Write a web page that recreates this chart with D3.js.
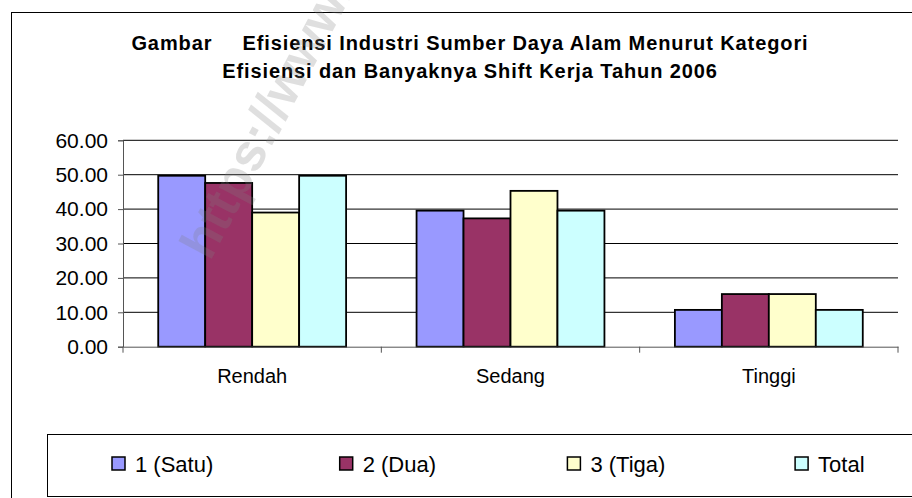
<!DOCTYPE html>
<html>
<head>
<meta charset="utf-8">
<script src="https://cdn.jsdelivr.net/npm/d3@7"></script>
<style>
  html, body { margin: 0; padding: 0; background: #fff; }
  svg { display: block; font-family: Arial, "Liberation Sans", sans-serif; }
</style>
</head>
<body>
<svg id="chart" width="912" height="498"></svg>
<script>
// ---- data ----
const categories = ["Rendah", "Sedang", "Tinggi"];
const seriesNames = ["1 (Satu)", "2 (Dua)", "3 (Tiga)", "Total"];
const satu  = [49.7, 39.55, 10.7];
const dua   = [47.6, 37.3, 15.3];
const tiga  = [39.0, 45.3, 15.3];
const total = [49.7, 39.55, 10.7];
const seriesColors = ["#9999FF", "#993366", "#FFFFCC", "#CCFFFF"];
const yTicks = [0, 10, 20, 30, 40, 50, 60];
const titleWord = "Gambar";
const titleLine1 = "Efisiensi Industri Sumber Daya Alam Menurut Kategori";
const titleLine2 = "Efisiensi dan Banyaknya Shift Kerja Tahun 2006";
const watermark = "https://www.bps.go.id";

const seriesValues = [satu, dua, tiga, total];
const rows = categories.map((c, i) => ({
  category: c,
  values: seriesNames.map((s, j) => ({ series: s, value: seriesValues[j][i], color: seriesColors[j] }))
}));

const svg = d3.select("#chart");

// outer chart border
svg.append("rect")
  .attr("x", 11.5).attr("y", 12.5).attr("width", 920).attr("height", 500)
  .attr("fill", "#fff").attr("stroke", "#000").attr("stroke-width", 1);

// title
const title = svg.append("g").attr("font-weight", "bold").attr("font-size", 20)
  .attr("letter-spacing", "0.9px").attr("fill", "#000").attr("text-anchor", "middle");
const t1 = title.append("text").attr("x", 470).attr("y", 50);
t1.append("tspan").text(titleWord);
t1.append("tspan").attr("dx", 30).text(titleLine1);
title.append("text").attr("x", 470).attr("y", 78).text(titleLine2);

// scales
const x0 = d3.scaleBand().domain(categories).range([123, 898]).padding(0);
const x1 = d3.scaleBand().domain(seriesNames).range([0, x0.bandwidth()]).paddingInner(0).paddingOuter(0.75);
const y = d3.scaleLinear().domain([0, 60]).range([346.7, 140.3]);

// gridlines
svg.append("g").selectAll("line").data(yTicks.filter(d => d > 0)).join("line")
  .attr("x1", 123).attr("x2", 898)
  .attr("y1", d => y(d)).attr("y2", d => y(d))
  .attr("stroke", "#000").attr("stroke-width", 1);

// bars
const groups = svg.append("g").selectAll("g").data(rows).join("g")
  .attr("transform", d => `translate(${x0(d.category)},0)`);
groups.selectAll("rect").data(d => d.values).join("rect")
  .attr("x", d => x1(d.series))
  .attr("width", x1.bandwidth())
  .attr("y", d => y(d.value))
  .attr("height", d => y(0) - y(d.value))
  .attr("fill", d => d.color)
  .attr("stroke", "#000").attr("stroke-width", 1.8);

// y axis
const yAxis = svg.append("g").attr("transform", "translate(123,0)")
  .call(d3.axisLeft(y).tickValues(yTicks).tickFormat(d3.format(".2f")).tickSize(5).tickPadding(10));
yAxis.select(".domain").attr("stroke", "#555");
yAxis.selectAll(".tick line").attr("stroke", "#555");
yAxis.selectAll("text").attr("font-size", 21).attr("fill", "#000")
  .attr("font-family", "Arial, 'Liberation Sans', sans-serif");

// x axis
const xAxis = svg.append("g").attr("transform", `translate(0,${y(0)})`)
  .call(d3.axisBottom(x0).tickSize(0).tickPadding(0));
xAxis.select(".domain").attr("stroke", "#555");
xAxis.selectAll(".tick text").attr("font-size", 20).attr("fill", "#000")
  .attr("font-family", "Arial, 'Liberation Sans', sans-serif")
  .attr("dy", null).attr("y", 36.5);
const boundaries = categories.map(c => x0(c)).concat([x0.range()[1]]);
xAxis.append("g").selectAll("line").data(boundaries).join("line")
  .attr("x1", d => d).attr("x2", d => d).attr("y1", 0).attr("y2", 6)
  .attr("stroke", "#555");

// watermark
svg.append("text")
  .attr("transform", "translate(210,262) rotate(-62)")
  .attr("font-size", 52).attr("font-weight", "bold")
  .attr("fill", "#808080").attr("fill-opacity", 0.25)
  .text(watermark);

// legend
svg.append("rect")
  .attr("x", 47.5).attr("y", 434.5).attr("width", 900).attr("height", 62)
  .attr("fill", "none").attr("stroke", "#000").attr("stroke-width", 1);
const lx = d3.scaleBand().domain(seriesNames).range([112, 112 + 4 * 227.7]);
const items = svg.append("g").selectAll("g").data(seriesNames).join("g")
  .attr("transform", d => `translate(${lx(d)},0)`);
items.append("rect")
  .attr("x", 0).attr("y", 457).attr("width", 13).attr("height", 13)
  .attr("fill", (d, i) => seriesColors[i]).attr("stroke", "#000").attr("stroke-width", 1.5);
items.append("text")
  .attr("x", 23).attr("y", 471.5)
  .attr("font-size", 22).attr("fill", "#000")
  .text(d => d);
</script>
</body>
</html>
